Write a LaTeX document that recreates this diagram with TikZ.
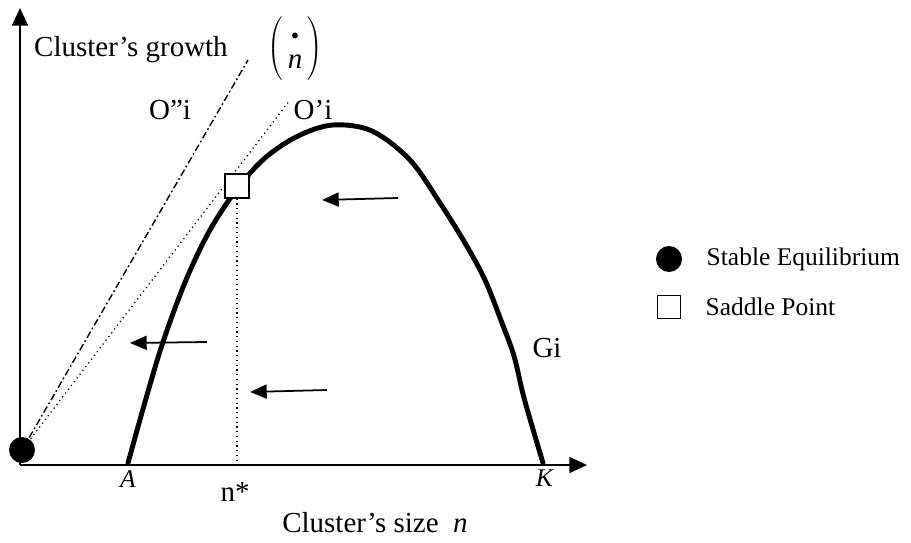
\documentclass[tikz,border=0pt]{standalone}
\usepackage{fontspec}
\setmainfont{Liberation Serif}
\usetikzlibrary{arrows.meta,positioning}
\tikzset{
    axis/.style={
        line width=1.2pt,-{Triangle[length=10pt,width=9pt]}
    },
    growth/.style={
        line width=2.8pt,line join=round,line cap=round
    },
    flow/.style={
        line width=1pt,-{Triangle[length=9.5pt,width=8pt]}
    },
    ray/.style={line width=0.7pt,dotted},
    raydd/.style={
        line width=0.8pt,dash pattern=on 4pt off 1.6pt on 1pt off 1.6pt
    },
    lbl/.style={inner sep=0pt,font=\fontsize{16.5}{19}\selectfont},
    lbls/.style={inner sep=0pt,font=\fontsize{14.5}{17}\selectfont},
    eqpt/.style={circle,fill=black,minimum size=0.52cm,inner sep=0pt},
    sadpt/.style={
        draw,line width=1pt,fill=white,minimum size=0.47cm,inner sep=0pt
    }
}

\begin{document}
\begin{tikzpicture}[x=0.02cm,y=-0.02cm]
\useasboundingbox (0,0) rectangle (911,543);

% axes
\coordinate (o) at (20,465);
\coordinate (ytip) at (20,8);
\coordinate (xtip) at (587,465);
\draw[axis](o)--(ytip);
\draw[axis](o)--(xtip);

% growth curve G_i
\draw[growth] plot[smooth,tension=0.55] coordinates {
    (128,463) (145,402) (163,342) (186,280) (210,230) (237,189)
    (265,158) (298,136) (333,125) (372,131) (410,160) (440,203)
    (465,243) (485,280) (502,323) (514,356) (523,394) (532,426)
    (543,463)};

% stable point and rays
\node[eqpt] (stab) at (22,450) {};
\coordinate (ray1) at (290,100);
\coordinate (ray2) at (248,60);
\draw[ray](stab.center)--(ray1);
\draw[raydd](stab.center)--(ray2);

% saddle point
\node[sadpt] (sad) at (237,186) {};
\coordinate (nstar) at (237,464);
\draw[ray](sad.south)--(nstar);

% flow arrows
\coordinate (f1s) at (398,198);
\coordinate (f1e) at (322,200);
\coordinate (f2s) at (207,342);
\coordinate (f2e) at (130,343);
\coordinate (f3s) at (327,390);
\coordinate (f3e) at (250,392);
\draw[flow](f1s)--(f1e);
\draw[flow](f2s)--(f2e);
\draw[flow](f3s)--(f3e);

% labels
\node[lbl] (ylab) at (131,50) {Cluster’s growth};
\node[lbl] (ndot) at (295,49)
{$\renewcommand{\arraystretch}{0.85}\left(\rule[-15pt]{0pt}{38pt}\begin{array}{@{\,}c@{\,}}\scriptscriptstyle\bullet\\ \mbox{\textit{n}}\end{array}\right)$};
\node[lbl] (o2lab) at (170,110) {O”i};
\node[lbl] (o1lab) at (313,110) {O’i};
\node[lbl] (glab) at (547,348) {Gi};
\node[lbls] (alab) at (128,479) {\textit{A}};
\node[lbls] (klab) at (545,478) {\textit{K}};
\node[lbl] (nlab) at (235,492) {n*};
\node[lbl] (xlab) at (375,523) {Cluster’s size\ \ \textit{n}};

% legend
\node[eqpt] (lstab) at (669,259) {};
\node[lbls,right=0.48cm of lstab] (lstabtxt) {Stable Equilibrium};
\node[sadpt,minimum size=0.46cm] (lsad) at (669,307) {};
\node[lbls,right=0.48cm of lsad] (lsadtxt) {Saddle Point};

\end{tikzpicture}
\end{document}
